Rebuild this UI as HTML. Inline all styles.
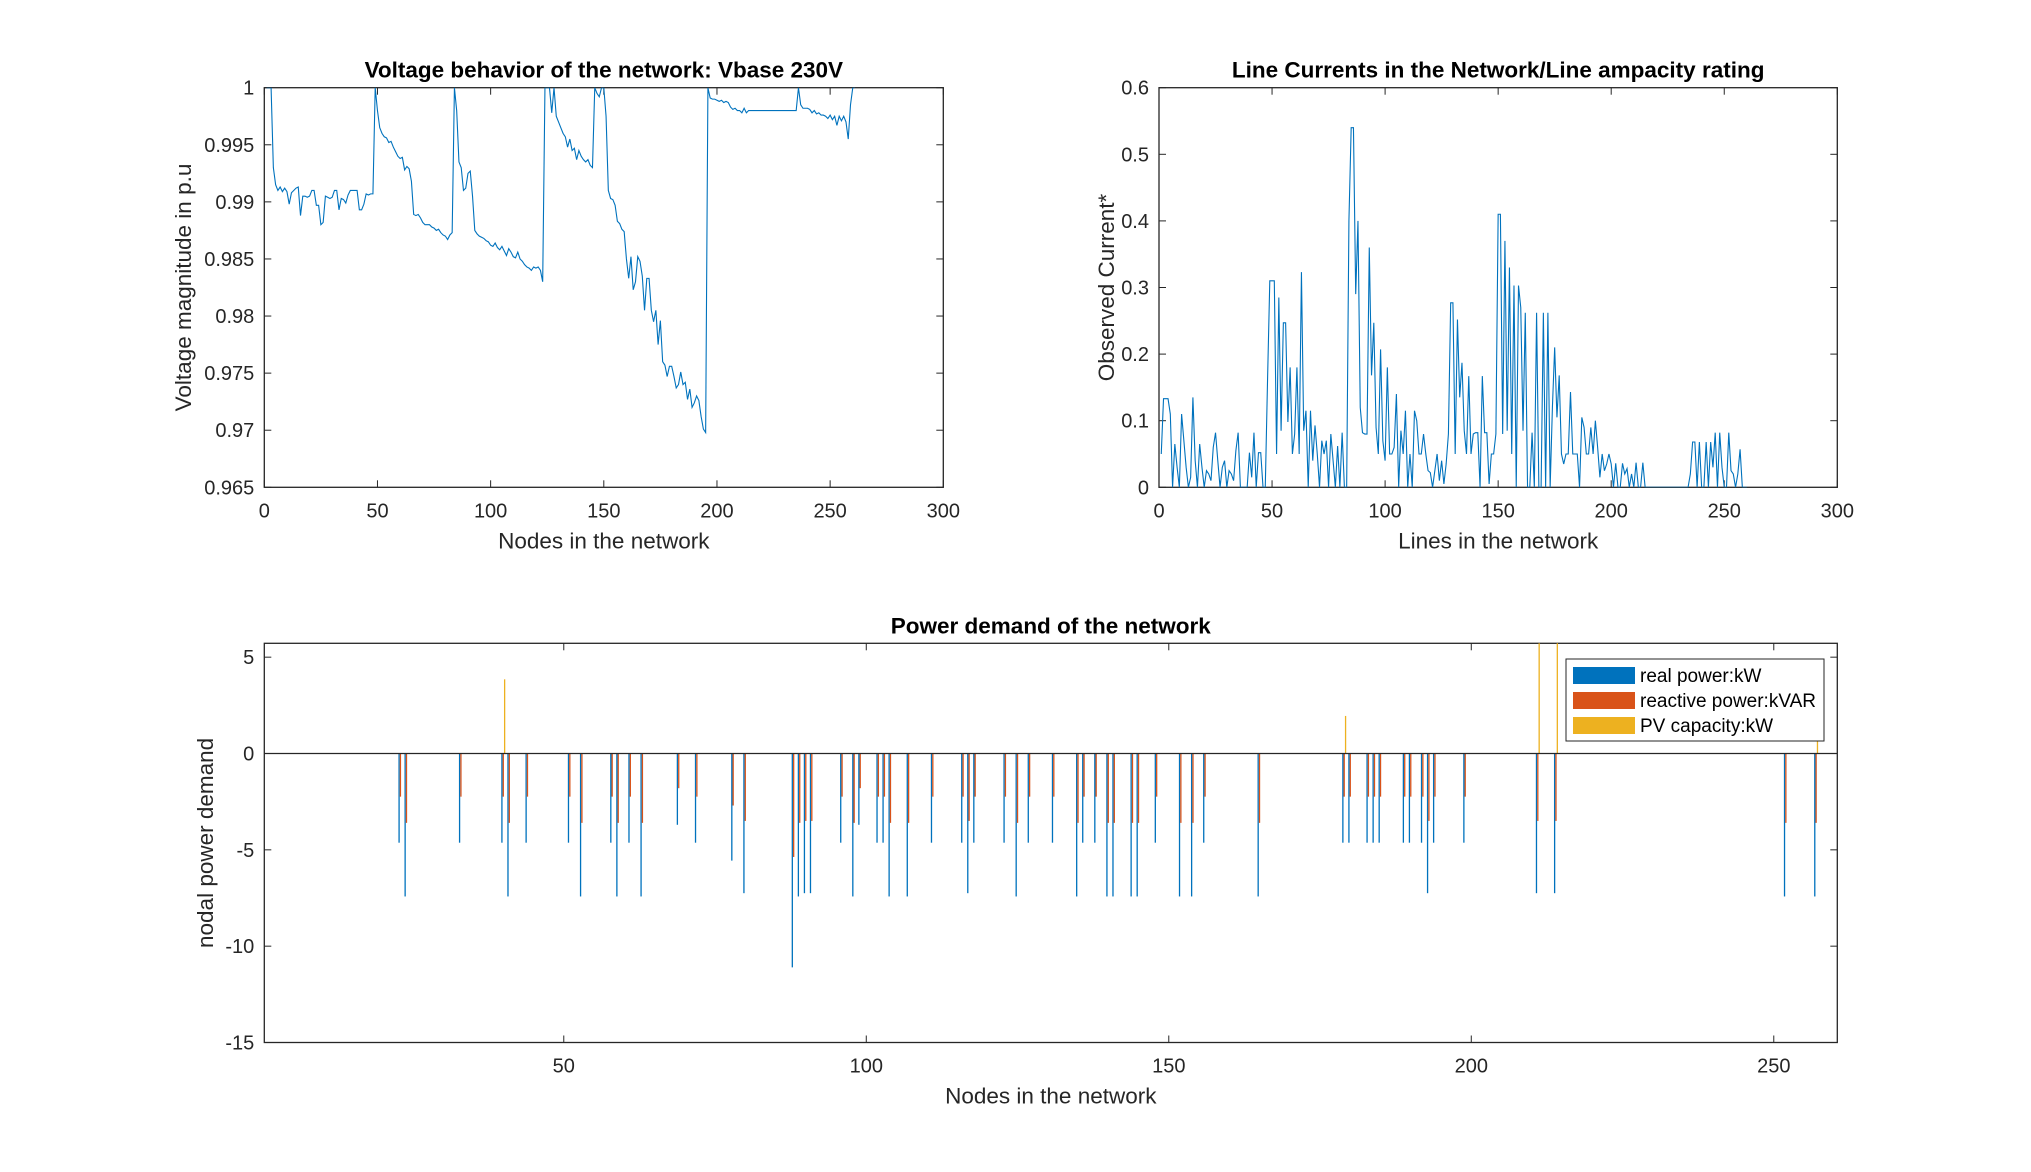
<!DOCTYPE html>
<html><head><meta charset="utf-8">
<style>
html,body{margin:0;padding:0;background:#fff;}
svg{display:block;font-family:"Liberation Sans",Arial,sans-serif;}
</style></head>
<body>
<svg id="fig" width="2031" height="1172" viewBox="0 0 2031 1172" xmlns="http://www.w3.org/2000/svg">
<rect x="0" y="0" width="2031" height="1172" fill="#fff"/>
<defs>
<clipPath id="c1"><rect x="264.3" y="87.7" width="679" height="399.6"/></clipPath>
<clipPath id="c2"><rect x="1159" y="87.7" width="678.3" height="399.6"/></clipPath>
<clipPath id="c3"><rect x="264.3" y="643.3" width="1573" height="399.2"/></clipPath>
</defs>
<g id="g1"></g>
<g id="g2"></g>
<g id="g3"></g>
</svg>
<script>
// ---- Voltage data (nodes 1..261) ----
const voltage = [1,1,1,.993,.9915,.991,.9913,.9909,.9912,.9909,.9898,.9908,.991,.9912,.9913,.9888,.9905,.9905,.9904,.9905,.991,.991,.9897,.9897,.988,.9882,.9905,.9904,.9903,.9904,.991,.991,.9893,.9903,.9902,.9899,.9906,.991,.991,.991,.991,.9893,.9893,.9898,.9907,.9906,.9907,.9907,
1.0,.998,.9965,.996,.9957,.9956,.9952,.9953,.9948,.9944,.994,.9938,.9939,.9928,.9931,.9929,.9918,.9889,.9888,.9889,.9886,.9882,.988,.988,.988,.9878,.9877,.9875,.9876,.9873,.9871,.987,.9867,.9871,.9873,
1.0,.998,.9935,.993,.991,.9912,.9925,.9927,.9905,.9875,.9872,.987,.9869,
.9868,.9866,.9865,.9862,.9861,.9864,.986,.9858,.9861,.9857,.9853,.9859,.9856,.9852,.9851,.9856,.985,.9848,.9845,.9843,.9842,.984,.9843,.9842,.9843,.984,.983,
1.0,1.0,1.0,.9978,1.0,.9975,.997,.9965,.996,.9957,.9948,.9955,.9945,.9947,.9937,.9945,.994,.9937,.9935,.9937,.9932,.993,
1.0,.9995,.9992,1.0,1.0,.9975,.991,.9903,.9902,.9897,.9883,.9881,.9876,.9874,.985,.9833,.9852,.9823,.983,.9852,.9848,.9835,.9805,.9833,.9833,.9805,.9795,.9805,.9775,.9796,.976,.9757,.9747,.9756,.9756,.9747,.9737,.974,.9751,.974,.9742,.9727,.9736,.972,.9724,.973,.9726,.9712,.9701,.9698,
1.0,.9991,.999,.999,.9989,.9988,.9989,.9987,.9988,.9987,.9983,.9981,.9982,.998,.998,.9978,.9982,.9978,.998,.998,.998,
.998,.998,.998,.998,.998,.998,.998,.998,.998,.998,.998,.998,.998,.998,.998,.998,.998,.998,.998,
1.0,.9985,.9982,.9982,.9982,.9981,.9978,.998,.9977,.9978,.9976,.9976,.9975,.9973,.9976,.9972,.9975,.9967,.9975,.9971,.9975,.997,.9955,.9985,1.0,1.0];
// ---- Line current data (lines 1..260) ----
const current = [.05,.133,.133,.133,.11,0,.065,.03,0,.11,.07,.03,0,.015,.135,.04,0,.065,.03,0,.025,.02,.01,.06,.082,.04,0,.03,.04,0,.025,.02,.01,.055,.082,0,0,0,0,.052,.015,.082,0,.052,.052,0,0,.16,.31,.31,
.31,.05,.285,.085,.247,.247,.098,.18,.05,.08,.18,.05,.323,.085,.115,0,.115,.04,.093,.05,0,.07,.05,.07,0,.08,.04,0,.062,0,.082,0,0,.4,.54,.54,.29,.4,.12,.082,.08,.08,.36,.168,.247,.09,.05,.207,.07,.04,
.18,.05,.05,.06,.14,0,.085,.05,.115,0,.05,0,.115,.1,.05,.05,.08,.05,.025,.022,0,.025,.05,.01,.04,.005,.035,.08,.277,.277,.05,.252,.135,.187,.085,.05,.167,.05,.08,.082,.082,0,.167,.082,.082,.005,.05,.05,.08,.41,
.41,.08,.37,.085,.33,.05,.303,0,.303,.27,.085,.262,0,0,.082,0,.262,0,0,.262,0,.262,0,.12,.21,.105,.168,.05,.035,.05,.05,.143,.05,.05,.05,0,.105,.09,.05,.05,.09,.05,.1,.06,.015,.05,.025,.035,.05,.035,
0,.036,0,0,.036,.02,.028,0,.02,0,.037,0,0,.037,0,0,0,0,0,0,0,0,0,0,0,0,0,0,0,0,0,0,0,0,.02,.068,.068,0,.068,0,0,.068,0,.068,.03,.082,0,.082,.03,0,0,.082,.025,.02,0,.02,.057,0,0,0];
// ---- Power demand data ----
const loadNodes = [23,24,33,40,41,44,51,53,58,59,61,63,69,72,78,80,88,89,90,91,96,98,99,102,103,104,107,111,116,117,118,123,125,127,131,135,136,138,140,141,144,145,148,152,154,156,165,179,180,183,184,185,189,190,192,193,194,199,211,214,252,257];
const realPower = [-4.63,-7.42,-4.63,-4.63,-7.42,-4.63,-4.63,-7.42,-4.63,-7.42,-4.63,-7.42,-3.7,-4.63,-5.56,-7.25,-11.1,-7.42,-7.25,-7.25,-4.63,-7.42,-3.7,-4.63,-4.63,-7.42,-7.42,-4.63,-4.63,-7.25,-4.63,-4.63,-7.42,-4.63,-4.63,-7.42,-4.63,-4.63,-7.42,-7.42,-7.42,-7.42,-4.63,-7.42,-7.42,-4.63,-7.42,-4.63,-4.63,-4.63,-4.63,-4.63,-4.63,-4.63,-4.63,-7.25,-4.63,-4.63,-7.25,-7.25,-7.42,-7.42];
const reactivePower = [-2.24,-3.6,-2.24,-2.24,-3.6,-2.24,-2.24,-3.6,-2.24,-3.6,-2.24,-3.6,-1.8,-2.24,-2.7,-3.5,-5.37,-3.6,-3.5,-3.5,-2.24,-3.6,-1.8,-2.24,-2.24,-3.6,-3.6,-2.24,-2.24,-3.5,-2.24,-2.24,-3.6,-2.24,-2.24,-3.6,-2.24,-2.24,-3.6,-3.6,-3.6,-3.6,-2.24,-3.6,-3.6,-2.24,-3.6,-2.24,-2.24,-2.24,-2.24,-2.24,-2.24,-2.24,-2.24,-3.5,-2.24,-2.24,-3.5,-3.5,-3.6,-3.6];
const pvNodes = [40,179,211,214,257];
const pvCapacity = [3.85,1.95,6.5,6.5,0.8];
const xTicksTop = [0,50,100,150,200,250,300];
const yTicksV = [0.965,0.97,0.975,0.98,0.985,0.99,0.995,1];
const yTickLabelsV = ["0.965","0.97","0.975","0.98","0.985","0.99","0.995","1"];
const yTicksC = [0,0.1,0.2,0.3,0.4,0.5,0.6];
const xTicksP = [50,100,150,200,250];
const yTicksP = [-15,-10,-5,0,5];

const NS="http://www.w3.org/2000/svg";
function mk(tag, attrs, parent){const e=document.createElementNS(NS,tag);for(const k in attrs)e.setAttribute(k,attrs[k]);parent.appendChild(e);return e;}
function txt(parent,x,y,s,size,anchor,weight,rot){const t=mk('text',{x:x,y:y,'font-size':size,'text-anchor':anchor,fill:weight==='bold'?'#000':'#262626','font-weight':weight||'normal'},parent);if(rot)t.setAttribute('transform','rotate(-90 '+x+' '+y+')');t.textContent=s;return t;}

function axes(g, L,T,W,H, xmin,xmax,ymin,ymax, xt,xtl, yt,ytl, title, xlabel, ylabel, ylabX){
  const sx=v=>L+(v-xmin)/(xmax-xmin)*W, sy=v=>T+H-(v-ymin)/(ymax-ymin)*H;
  const box=mk('rect',{x:L,y:T,width:W,height:H,fill:'none',stroke:'#262626','stroke-width':1.3},g);
  
  
  xt.forEach((v,i)=>{const x=sx(v);
    mk('line',{x1:x,y1:T+H,x2:x,y2:T+H-7,stroke:'#262626','stroke-width':1},g);
    mk('line',{x1:x,y1:T,x2:x,y2:T+7,stroke:'#262626','stroke-width':1},g);
    const t=txt(g,x,T+H+30,xtl[i],20,'middle');
    
    });
  yt.forEach((v,i)=>{const y=sy(v);
    mk('line',{x1:L,y1:y,x2:L+7,y2:y,stroke:'#262626','stroke-width':1},g);
    mk('line',{x1:L+W,y1:y,x2:L+W-7,y2:y,stroke:'#262626','stroke-width':1},g);
    const t=txt(g,L-10,y+7,ytl[i],20,'end');
    
    });
  const tt=txt(g,L+W/2,T-10,title,22.5,'middle','bold');
  
  
  const xl=txt(g,L+W/2,T+H+61,xlabel,22.5,'middle');
  
  
  const yl=txt(g,ylabX,T+H/2,ylabel,22.5,'middle','normal',true);
  
  
  return {sx,sy};
}

// Plot 1: voltage
(function(){
  const g=document.getElementById('g1');
  const a=axes(g,264.3,87.7,679,399.6,0,300,0.965,1,xTicksTop,xTicksTop.map(String),yTicksV,yTickLabelsV,
    'Voltage behavior of the network: Vbase 230V','Nodes in the network','Voltage magnitude in p.u',191);
  const d=voltage.map((v,i)=>(i?'L':'M')+a.sx(i+1).toFixed(2)+' '+a.sy(v).toFixed(2)).join(' ');
  const p=mk('path',{d:d,fill:'none',stroke:'#0072BD','stroke-width':1.1,'clip-path':'url(#c1)'},g);
  
  
})();
// Plot 2: currents
(function(){
  const g=document.getElementById('g2');
  const a=axes(g,1159,87.7,678.3,399.6,0,300,0,0.6,xTicksTop,xTicksTop.map(String),yTicksC,yTicksC.map(String),
    'Line Currents in the Network/Line ampacity rating','Lines in the network','Observed Current*',1114);
  const d=current.map((v,i)=>(i?'L':'M')+a.sx(i+1).toFixed(2)+' '+a.sy(v).toFixed(2)).join(' ');
  const p=mk('path',{d:d,fill:'none',stroke:'#0072BD','stroke-width':1.1,'clip-path':'url(#c2)'},g);
  
  
})();
// Plot 3: power demand bars
(function(){
  const g=document.getElementById('g3');
  const L=264.3,T=643.3,W=1573,H=399.2;
  const a=axes(g,L,T,W,H,0.5,260.5,-15,5.72,xTicksP,xTicksP.map(String),yTicksP,yTicksP.map(String),
    'Power demand of the network','Nodes in the network','nodal power demand',213);
  const bars=mk('g',{'clip-path':'url(#c3)'},g);
  const y0=a.sy(0), bw=1.3;
  function bar(node,val,off,color,name){
    const x=a.sx(node)+off, y=a.sy(val);
    const r=mk('rect',{x:(x-bw/2).toFixed(2),y:Math.min(y,y0).toFixed(2),width:bw,height:Math.abs(y-y0).toFixed(2),fill:color},bars);
    
    
  }
  loadNodes.forEach((n,i)=>{bar(n,realPower[i],-1.35,'#0072BD','real-power-bar');bar(n,reactivePower[i],0,'#D95319','reactive-power-bar');});
  pvNodes.forEach((n,i)=>bar(n,pvCapacity[i],1.35,'#EDB120','pv-capacity-bar'));
  const zl=mk('line',{x1:L,y1:y0,x2:L+W,y2:y0,stroke:'#262626','stroke-width':1.3},g);
  
  
  // legend
  const lg=mk('g',{},g);
  
  
  mk('rect',{x:1566,y:659,width:258,height:82,fill:'#fff',stroke:'#262626','stroke-width':1},lg);
  const items=[['real power:kW','#0072BD'],['reactive power:kVAR','#D95319'],['PV capacity:kW','#EDB120']];
  items.forEach((it,i)=>{
    const cy=675+i*25;
    const e=mk('g',{},lg);
    
    
    mk('rect',{x:1573,y:cy-8,width:62,height:17,fill:it[1]},e);
    const t=txt(e,1640,cy+7,it[0],19,'start');
    t.setAttribute('fill','#000');
  });
})();
</script>
</body></html>
